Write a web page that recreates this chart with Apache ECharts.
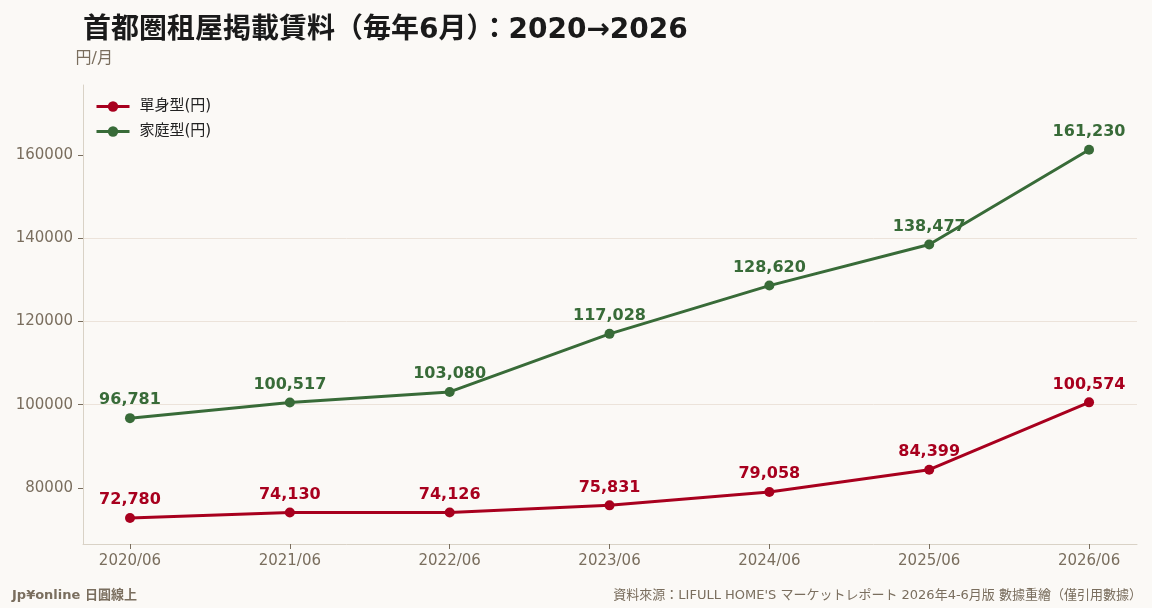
<!DOCTYPE html>
<html>
<head>
<meta charset="utf-8">
<script src="https://cdn.jsdelivr.net/npm/echarts@6/dist/echarts.min.js"></script>
<style>
  html, body { margin: 0; padding: 0; background: #fbf9f6; }
  #chart { width: 1152px; height: 608px; }
</style>
</head>
<body>
<div id="chart"></div>
<script>
const categories = ['2020/06', '2021/06', '2022/06', '2023/06', '2024/06', '2025/06', '2026/06'];
const singleRent = [72780, 74130, 74126, 75831, 79058, 84399, 100574];
const familyRent = [96781, 100517, 103080, 117028, 128620, 138477, 161230];
const yTicks = [80000, 100000, 120000, 140000, 160000];

const chart = echarts.init(document.getElementById('chart'));
const font = '"DejaVu Sans", "Noto Sans CJK JP", sans-serif';
const mutedColor = '#7a6e5e';

// x 軸は数値軸にして、端の余白を参考図に合わせる
const toPoints = (arr) => arr.map((v, i) => [i, v]);
const xIdx = categories.map((_, i) => i);

function makeSeries(name, data, color) {
    return {
        name,
        type: 'line',
        data: toPoints(data),
        symbol: 'circle',
        symbolSize: 10,
        lineStyle: { width: 3, color },
        itemStyle: { color },
        label: {
            show: true,
            position: 'top',
            distance: 5,
            color,
            fontFamily: font,
            fontWeight: 'bold',
            fontSize: 16,
            formatter: (p) => p.value[1].toLocaleString('en-US')
        }
    };
}

chart.setOption({
    backgroundColor: '#fbf9f6',
    animation: false,
    textStyle: { fontFamily: font },
    title: [
        {
            text: '首都圏租屋掲載賃料（毎年6月）：2020→2026',
            left: 78,
            top: 12,
            textStyle: { fontSize: 28, fontWeight: 'bold', color: '#1a1a1a', fontFamily: font }
        },
        {
            text: 'Jp¥online 日圓線上',
            left: 7,
            top: 584,
            textStyle: { fontSize: 13, fontWeight: 'bold', color: mutedColor, fontFamily: font }
        },
        {
            text: '資料來源：LIFULL HOME\'S マーケットレポート 2026年4-6月版 數據重繪（僅引用數據）',
            right: 5,
            top: 584,
            textStyle: { fontSize: 13, fontWeight: 'normal', color: mutedColor, fontFamily: font }
        }
    ],
    legend: {
        orient: 'vertical',
        left: 90,
        top: 94,
        itemWidth: 33,
        itemHeight: 13,
        itemGap: 10,
        lineStyle: { width: 3 },
        textStyle: { fontSize: 15, color: '#222', fontFamily: font, padding: [0, 0, 0, 5] },
        data: ['單身型(円)', '家庭型(円)']
    },
    grid: { left: 83, right: 15, top: 85, bottom: 64 },
    xAxis: {
        type: 'value',
        min: -0.294,
        max: 6.3,
        axisLine: { show: true, onZero: false, lineStyle: { color: '#d9d2c6' } },
        axisTick: { show: true, customValues: xIdx, lineStyle: { color: mutedColor } },
        axisLabel: {
            customValues: xIdx,
            color: mutedColor,
            fontSize: 15,
            margin: 10,
            formatter: (v) => categories[Math.round(v)] || ''
        },
        splitLine: { show: false }
    },
    yAxis: {
        type: 'value',
        name: '円/月',
        nameLocation: 'end',
        nameGap: 18,
        nameTextStyle: { color: mutedColor, fontSize: 16, align: 'right', padding: [0, -30, 0, 0] },
        min: 66550,
        max: 176800,
        axisLine: { show: true, onZero: false, lineStyle: { color: '#d9d2c6' } },
        axisTick: { show: true, customValues: yTicks, lineStyle: { color: mutedColor } },
        axisLabel: { customValues: yTicks, color: mutedColor, fontSize: 15, margin: 10, formatter: (v) => String(v) },
        splitLine: { show: true, showMinLine: false, showMaxLine: false, lineStyle: { color: '#ece3da' } }
    },
    series: [
        makeSeries('單身型(円)', singleRent, '#a8001e'),
        makeSeries('家庭型(円)', familyRent, '#386b38')
    ]
});
</script>
</body>
</html>
